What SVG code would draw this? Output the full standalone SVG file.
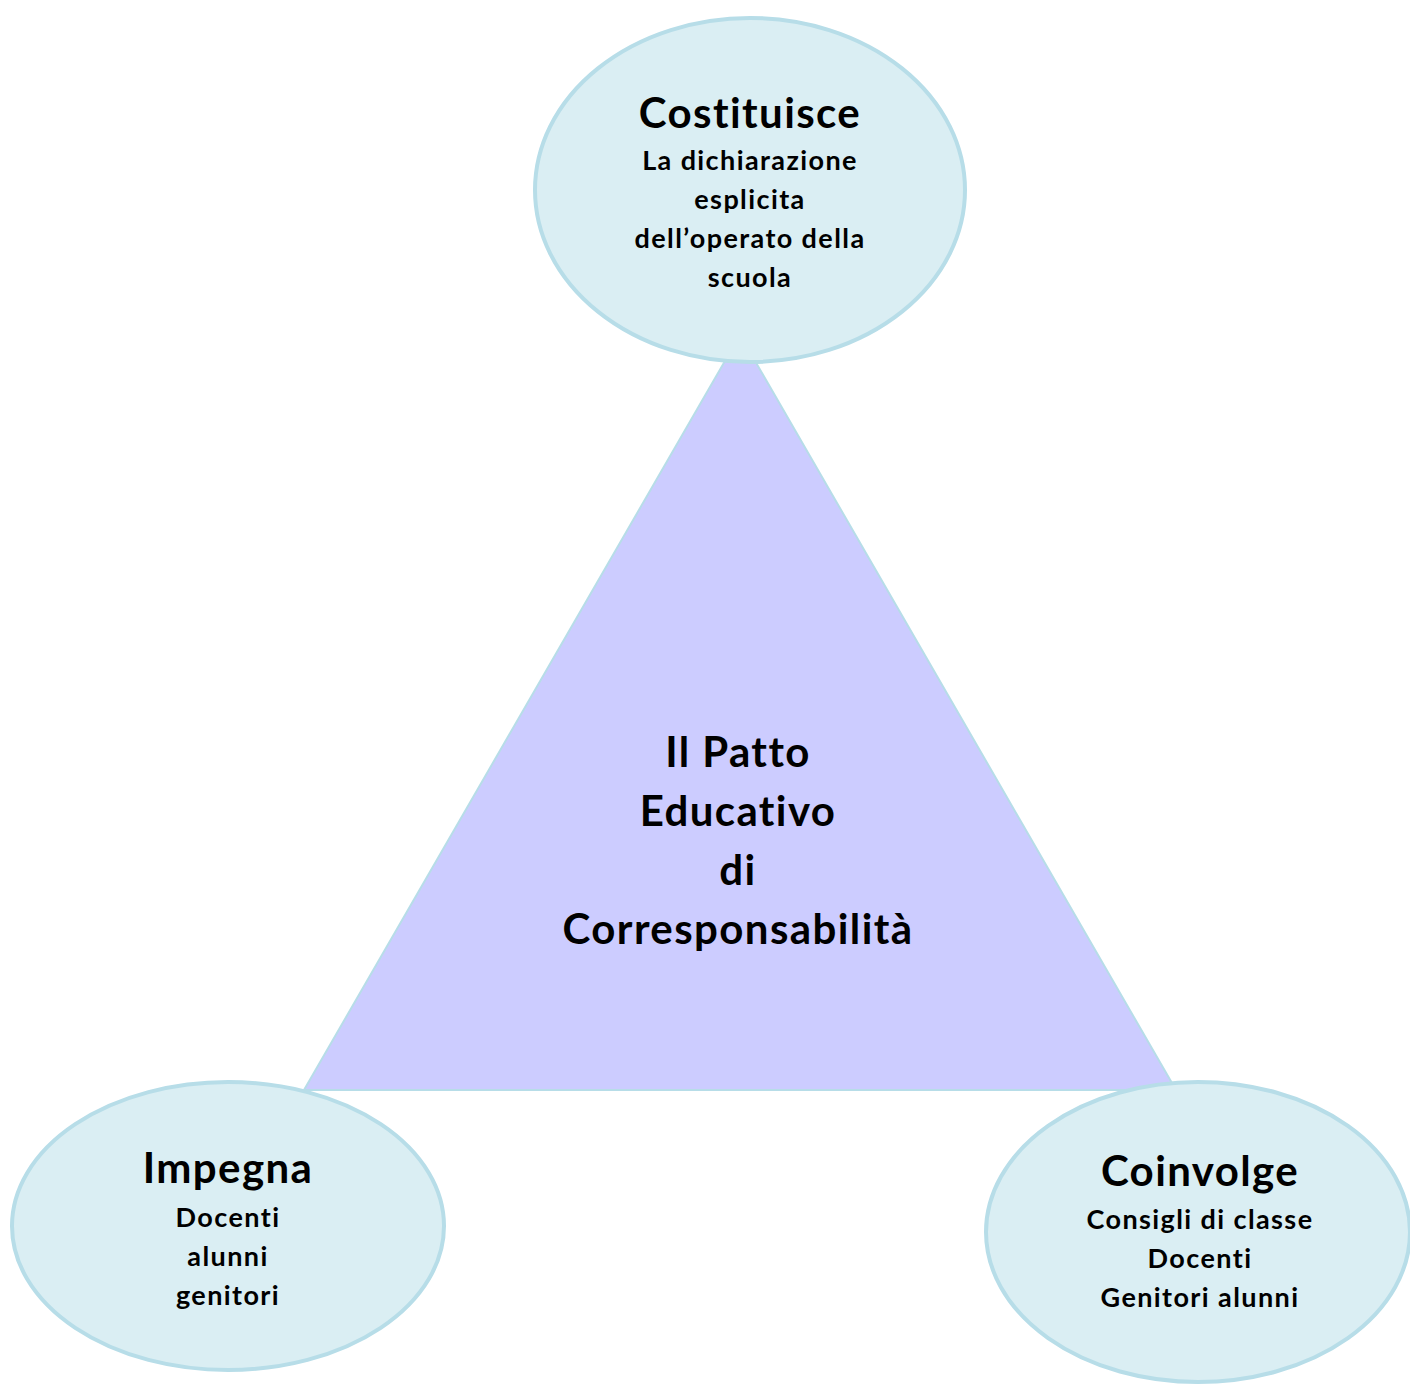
<svg xmlns="http://www.w3.org/2000/svg" width="1410" height="1385" viewBox="0 0 1410 1385">
<style>
.ell{fill:#daeef3;stroke:#b7dde8;stroke-width:4}
.tri{fill:#ccccff;stroke:#b7dde8;stroke-width:2}
text{font-family:Lato,"Open Sans","Liberation Sans",sans-serif;font-weight:bold;fill:#000;text-anchor:middle;font-variant-ligatures:none;letter-spacing:1.4px}
.h{font-size:42px}
.s{font-size:27px}
</style>
<rect width="1410" height="1385" fill="#fff"/>
<g id="connectors"></g>
<g id="triangle">
<polygon class="tri" points="740,335 1176,1090 304,1090"/>
<text class="h" x="738" y="767">Il Patto</text>
<text class="h" x="738" y="826">Educativo</text>
<text class="h" x="738" y="885">di</text>
<text class="h" x="738" y="944">Corresponsabilità</text>
</g>
<g id="costituisce">
<ellipse class="ell" cx="750" cy="190" rx="215" ry="172"/>
<text class="h" x="750" y="128">Costituisce</text>
<text class="s" x="750" y="170">La dichiarazione</text>
<text class="s" x="750" y="209">esplicita</text>
<text class="s" x="750" y="248">dell’operato della</text>
<text class="s" x="750" y="287">scuola</text>
</g>
<g id="impegna">
<ellipse class="ell" cx="228" cy="1226" rx="216" ry="144"/>
<text class="h" x="228" y="1183">Impegna</text>
<text class="s" x="228" y="1227">Docenti</text>
<text class="s" x="228" y="1266">alunni</text>
<text class="s" x="228" y="1305">genitori</text>
</g>
<g id="coinvolge">
<ellipse class="ell" cx="1198" cy="1232" rx="212" ry="150"/>
<text class="h" x="1200" y="1186">Coinvolge</text>
<text class="s" x="1200" y="1229">Consigli di classe</text>
<text class="s" x="1200" y="1268">Docenti</text>
<text class="s" x="1200" y="1307">Genitori alunni</text>
</g>
</svg>
